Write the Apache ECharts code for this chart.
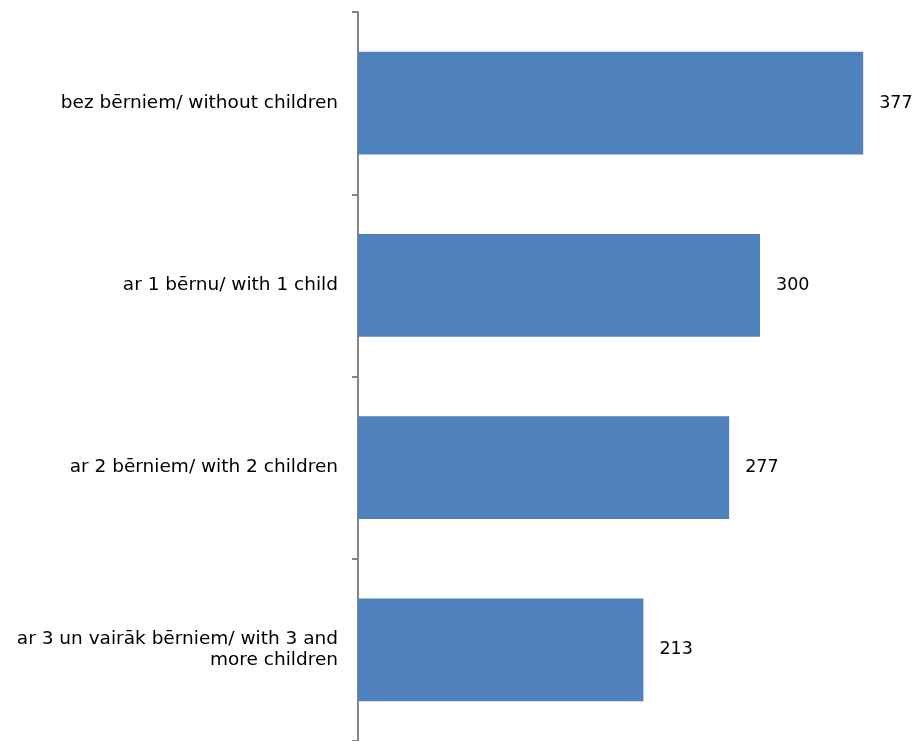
<!DOCTYPE html>
<html>
<head>
<meta charset="utf-8">
<script src="https://cdn.jsdelivr.net/npm/echarts@6/dist/echarts.min.js"></script>
<style>
    html, body { margin: 0; padding: 0; background: #fff; }
    #chart { width: 916px; height: 741px; }
</style>
</head>
<body>
<div id="chart"></div>
<script>
    // kategorijas no augšas uz leju
    const categories = [
        'bez bērniem/ without children',
        'ar 1 bērnu/ with 1 child',
        'ar 2 bērniem/ with 2 children',
        'ar 3 un vairāk bērniem/ with 3 and\nmore children'
    ];
    const values = [377, 300, 277, 213];

    const font = '"DejaVu Sans", Verdana, sans-serif';

    const myChart = echarts.init(document.getElementById('chart'));
    const chartOption = {
        animation: false,
        textStyle: { fontFamily: font },
        grid: {
            left: 358,
            right: 22,
            top: 12,
            height: 734
        },
        xAxis: {
            type: 'value',
            min: 0,
            max: 400,
            show: false
        },
        yAxis: {
            type: 'category',
            inverse: true,
            data: categories,
            axisLine: {
                show: true,
                lineStyle: { color: '#868686', width: 2 }
            },
            axisTick: {
                show: true,
                length: 6,
                lineStyle: { color: '#868686', width: 2 }
            },
            axisLabel: {
                color: '#000',
                fontFamily: font,
                fontSize: 18.5,
                lineHeight: 21,
                margin: 20,
                align: 'right'
            }
        },
        series: [{
            type: 'bar',
            data: values,
            barCategoryGap: '43.5%',
            itemStyle: {
                color: '#4F81BD'
            },
            label: {
                show: true,
                position: 'right',
                distance: 16,
                color: '#000',
                fontFamily: font,
                fontSize: 17.5
            }
        }]
    };
    myChart.setOption(chartOption);
</script>
</body>
</html>
